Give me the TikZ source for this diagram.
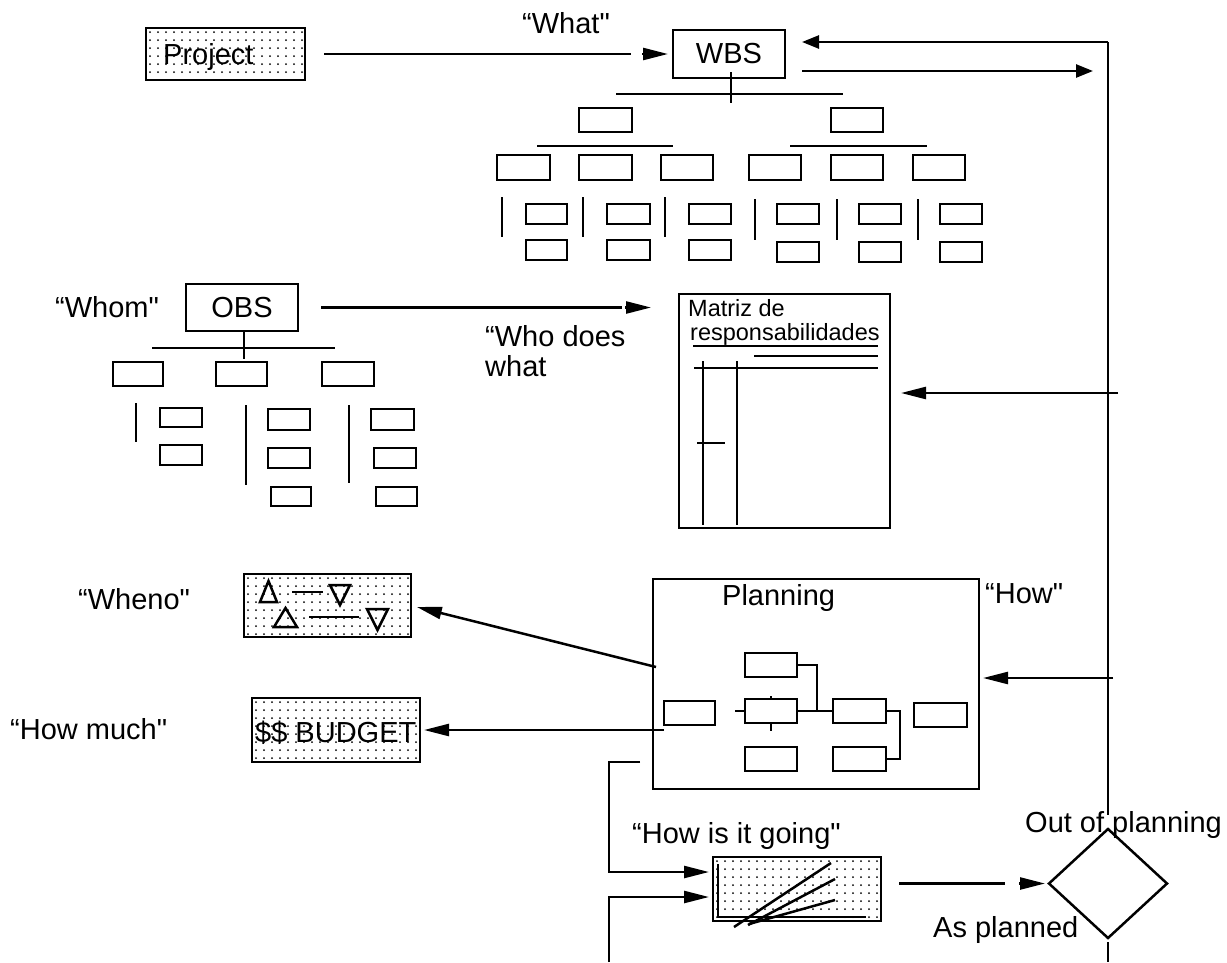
\documentclass[tikz,border=0pt]{standalone}
\usepackage{fontspec}
\newfontfamily\labfont{Liberation Sans}
\usetikzlibrary{arrows.meta,calc,shapes.geometric}

% box given by its outer corners (x1,y1)-(x2,y2), measured downwards
\newcommand\bxat[6][]{%
  \node[sbox,#1,minimum width={#5-#3-2},minimum height={#6-#4-2}] (#2)
    at ({(#3+#5)/2},{(#4+#6)/2}) {};}

\begin{document}
\begin{tikzpicture}[x=1pt,y=-1pt,
  ln/.style={line width=2.5pt},
  sbox/.style={draw,line width=2.5pt,inner sep=0pt,outer sep=0pt},
  dotfill/.style={path picture={
    \foreach \i in {0,...,22}{\foreach \j in {0,...,9}{
      \fill ($(path picture bounding box.north west)+(\i*8+4,\j*8+4)$) circle[radius=1pt];}}}},
  lab/.style={font=\labfont\fontsize{29}{34}\selectfont,inner sep=0pt,anchor=base west},
  smalllab/.style={font=\labfont\fontsize{23.5}{28}\selectfont,inner sep=0pt,anchor=base west},
  arr/.style={line width=2.5pt,-{Triangle[length=25pt,width=12pt]}},
  arrs/.style={line width=2.5pt,-{Triangle[length=17pt,width=13pt]}}]
\useasboundingbox (0,0) rectangle (1227,962);

% ---------- main boxes ----------
\bxat[dotfill]{proj}{145}{27}{306}{81}
\node[lab] at (163,64) {Project};
\bxat{wbs}{672}{29}{786}{79}
\node[lab,anchor=center] at (wbs) {WBS};
\bxat{obs}{185}{283}{299}{332}
\node[lab,anchor=center] at (obs) {OBS};
\bxat{mat}{678}{293}{891}{529}
\bxat[dotfill]{when}{243}{573}{412}{638}
\bxat[dotfill]{bud}{251}{697}{421}{763}
\node[lab] at (255,742) {\$\$ BUDGET};
\bxat{plan}{652}{578}{980}{790}
\node[lab] at (722,605) {Planning};
\bxat[dotfill]{ctl}{712}{856}{882}{922}
\node[draw,line width=2.5pt,diamond,minimum width=118pt,minimum height=109pt,inner sep=0pt,outer sep=0pt] (dia) at (1108,883.5) {};

% ---------- labels ----------
\node[lab] at (522,33) {“What"};
\node[lab] at (55,317) {“Whom"};
\node[lab] at (485,346) {“Who does};
\node[lab] at (485,376) {what};
\node[lab] at (78,609) {“Wheno"};
\node[lab] at (10,739) {“How much"};
\node[lab] at (985,603) {“How"};
\node[lab] at (632,843) {“How is it going"};
\node[lab] at (1025,832) {Out of planning};
\node[lab] at (933,937) {As planned};

% ---------- WBS tree ----------
\draw[ln] (731,72) -- (731,103);
\draw[ln] (616,94) -- (843,94);
\bxat{w1a}{578}{107}{633}{133}
\bxat{w1b}{830}{107}{884}{133}
\draw[ln] (537,146) -- (673,146);
\draw[ln] (790,146) -- (927,146);
\bxat{w2a}{496}{154}{551}{181}
\bxat{w2b}{578}{154}{633}{181}
\bxat{w2c}{660}{154}{714}{181}
\bxat{w2d}{748}{154}{802}{181}
\bxat{w2e}{830}{154}{884}{181}
\bxat{w2f}{912}{154}{966}{181}
\foreach \x in {502,583,665} \draw[ln] (\x,197) -- (\x,237);
\foreach \x in {755,837,918} \draw[ln] (\x,199) -- (\x,240);
\bxat{w3a}{525}{203}{568}{225}
\bxat{w3b}{606}{203}{651}{225}
\bxat{w3c}{688}{203}{732}{225}
\bxat{w3d}{776}{203}{820}{225}
\bxat{w3e}{858}{203}{902}{225}
\bxat{w3f}{939}{203}{983}{225}
\bxat{w4a}{525}{239}{568}{261}
\bxat{w4b}{606}{239}{651}{261}
\bxat{w4c}{688}{239}{732}{261}
\bxat{w4d}{776}{241}{820}{263}
\bxat{w4e}{858}{241}{902}{263}
\bxat{w4f}{939}{241}{983}{263}

% ---------- OBS tree ----------
\draw[ln] (244,332) -- (244,359);
\draw[ln] (152,348) -- (335,348);
\bxat{o1a}{112}{361}{164}{387}
\bxat{o1b}{215}{361}{268}{387}
\bxat{o1c}{321}{361}{375}{387}
\draw[ln] (136,403) -- (136,442);
\draw[ln] (246,405) -- (246,485);
\draw[ln] (349,405) -- (349,483);
\bxat{o2a}{159}{407}{203}{428}
\bxat{o3a}{159}{444}{203}{466}
\bxat{o2b}{267}{408}{311}{431}
\bxat{o3b}{267}{447}{311}{469}
\bxat{o4b}{270}{486}{312}{507}
\bxat{o2c}{370}{408}{415}{431}
\bxat{o3c}{373}{447}{417}{469}
\bxat{o4c}{375}{486}{418}{507}

% ---------- responsibility matrix ----------
\node[smalllab] at (688,316) {Matriz de};
\node[smalllab] at (690,340) {responsabilidades};
\draw[ln] (693,346) -- (878,346);
\draw[ln] (754,356) -- (878,356);
\draw[ln] (694,368) -- (878,368);
\draw[ln] (703,361) -- (703,525);
\draw[ln] (737,361) -- (737,525);
\draw[ln] (697,443) -- (725,443);

% ---------- milestones ----------
\draw[ln,line join=miter] (260,602) -- (268.5,581) -- (277,602) -- cycle;
\draw[ln] (292,592) -- (323,592);
\draw[ln,line join=miter] (330,585) -- (350,585) -- (340,605) -- cycle;
\draw[ln,line join=miter] (274,627) -- (285.5,608) -- (297,627) -- cycle;
\draw[ln] (309,617) -- (359,617);
\draw[ln,line join=miter] (367,609) -- (388,609) -- (377.5,630) -- cycle;

% ---------- planning network ----------
\bxat{pa}{663}{700}{716}{726}
\bxat{pb}{744}{652}{798}{678}
\bxat{pc}{744}{698}{798}{724}
\bxat{pd}{744}{746}{798}{772}
\bxat{pe}{832}{698}{887}{724}
\bxat{pf}{832}{746}{887}{772}
\bxat{pg}{913}{702}{968}{728}
\coordinate (j1) at (817,711);
\draw[ln] (pb.east) -| (j1);
\draw[ln] (pc.east) -- (pe.west);
\draw[ln] (pc.west) -- ++(-10,0);
\draw[ln] (pc.south) -- ++(0,8);
\draw[ln] (pc.north) -- ++(0,-3);
\draw[ln] (pe.east) -- ++(14,0) |- (pf.east);

% ---------- progress chart ----------
\draw[ln] (718,864) -- (718,917) -- (866,917);
\draw[ln] (734,927) -- (831,863);
\draw[ln] (748,925) -- (835,879);
\draw[ln] (749,924) -- (835,900);

% ---------- connectors ----------
\coordinate (tr) at (1108,42);
\coordinate (wr) at (1093,71);
\coordinate (mr) at (1118,393);
\coordinate (pr) at (1113,678);
\coordinate (c1) at (640,762);
\coordinate (c2) at (609,872);
\coordinate (c3) at (609,962);
\coordinate (c4) at (609,897);

% arrows whose shaft stops short of the head
\draw[ln,shorten <=19pt,shorten >=42pt] (proj.east) -- (wbs.west);
\draw[arr,shorten >=5pt] ($(wbs.west)+(-31,0)$) -- (wbs.west);
\draw[ln,shorten <=23pt,shorten >=57pt] (obs.east) -- (obs.east -| mat.west);
\draw[arr,shorten >=28pt] ($(obs.east -| mat.west)+(-54,0)$) -- (obs.east -| mat.west);
\draw[ln,shorten <=18pt,shorten >=44pt] (ctl.east |- dia.west) -- (dia.west);
\draw[arr,shorten >=4pt] ($(dia.west)+(-30,0)$) -- (dia.west);

\draw[arrs,shorten >=17pt] (tr) -- (tr -| wbs.east);
\draw[arrs,shorten <=17pt] ($(wbs.east)+(0,17)$) -- (wr);
\draw[ln,shorten >=14pt] (tr) -- (dia.north);
\draw[arr,shorten >=11pt] (mr) -- (mr -| mat.east);
\draw[arr,shorten >=4pt] (pr) -- (pr -| plan.east);
\draw[arr,shorten >=6pt] ($(plan.west)+(3,-17)$) -- (when.east);
\draw[arr,shorten >=4pt] (pa.west |- bud.east) -- (bud.east);
\draw[arr,shorten >=4pt] (c1) -| (c2) -- (c2 -| ctl.west);
\draw[arr,shorten >=4pt] (c3) -- (c4) -- (c4 -| ctl.west);
\draw[ln,shorten <=4pt] (dia.south) -- (dia.south |- c3);
\end{tikzpicture}
\end{document}
